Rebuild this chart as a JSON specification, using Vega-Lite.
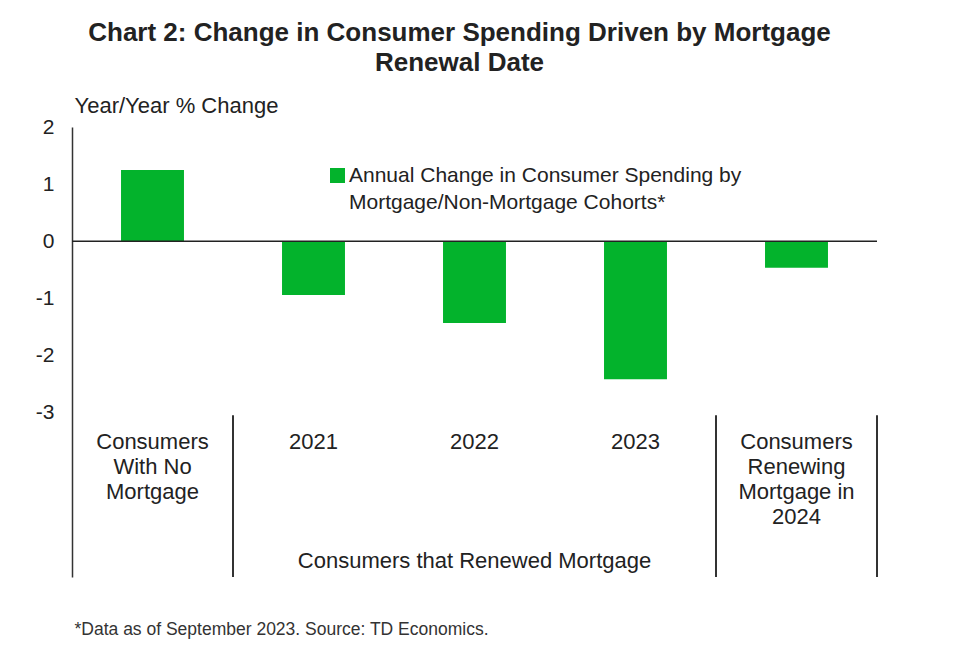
{
  "$schema": "https://vega.github.io/schema/vega-lite/v6.json",
  "autosize": {"type": "none"},
  "width": 805,
  "height": 450,
  "padding": {"left": 72, "top": 127, "right": 82, "bottom": 86},
  "background": "white",
  "config": {
    "view": {"stroke": null},
    "font": "Liberation Sans",
    "style": {"guide-label": {"lineHeight": 27}}
  },
  "title": {
    "text": ["Chart 2: Change in Consumer Spending Driven by Mortgage", "Renewal Date"],
    "fontSize": 26,
    "fontWeight": "bold",
    "color": "#222222",
    "lineHeight": 30,
    "anchor": "middle",
    "dx": -15,
    "offset": 18,
    "font": "Liberation Sans"
  },
  "datasets": {
    "bars": [
      {"category": "Consumers With No Mortgage", "label": "Consumers|With No|Mortgage", "value": 1.25, "series": "Annual Change in Consumer Spending by Mortgage/Non-Mortgage Cohorts*"},
      {"category": "2021", "label": "2021", "value": -0.94, "series": "Annual Change in Consumer Spending by Mortgage/Non-Mortgage Cohorts*"},
      {"category": "2022", "label": "2022", "value": -1.43, "series": "Annual Change in Consumer Spending by Mortgage/Non-Mortgage Cohorts*"},
      {"category": "2023", "label": "2023", "value": -2.41, "series": "Annual Change in Consumer Spending by Mortgage/Non-Mortgage Cohorts*"},
      {"category": "Consumers Renewing Mortgage in 2024", "label": "Consumers|Renewing|Mortgage in|2024", "value": -0.46, "series": "Annual Change in Consumer Spending by Mortgage/Non-Mortgage Cohorts*"}
    ],
    "group": [
      {"category": "2022", "label": "Consumers that Renewed Mortgage"}
    ],
    "one": [{}]
  },
  "layer": [
    {
      "data": {"name": "bars"},
      "mark": {"type": "bar", "width": {"band": 0.391}},
      "encoding": {
        "x": {
          "field": "category",
          "type": "nominal",
          "scale": {
            "domain": ["Consumers With No Mortgage", "2021", "2022", "2023", "Consumers Renewing Mortgage in 2024"],
            "paddingInner": 0,
            "paddingOuter": 0
          },
          "axis": {
            "orient": "bottom",
            "labels": false,
            "ticks": false,
            "domain": false,
            "grid": false,
            "title": "*Data as of September 2023. Source: TD Economics.",
            "titleAlign": "left",
            "titleBaseline": "alphabetic",
            "titleX": 2,
            "titleY": 57,
            "titleFontSize": 17.5,
            "titleFontWeight": "normal",
            "titleColor": "#333333"
          }
        },
        "y": {
          "field": "value",
          "type": "quantitative",
          "scale": {"domain": [-5.87, 2], "nice": false, "zero": false},
          "axis": {
            "values": [2, 1, 0, -1, -2, -3],
            "ticks": false,
            "grid": false,
            "domainColor": "#333333",
            "domainWidth": 1.5,
            "labelFontSize": 21,
            "labelPadding": 18,
            "labelColor": "#222222",
            "labelExpr": "'' + datum.value",
            "title": "Year/Year % Change",
            "titleAngle": 0,
            "titleAlign": "left",
            "titleBaseline": "alphabetic",
            "titleX": 2,
            "titleY": -15,
            "titleFontSize": 22,
            "titleFontWeight": "normal",
            "titleColor": "#222222"
          }
        },
        "color": {
          "field": "series",
          "type": "nominal",
          "scale": {"range": ["#03b32c"]},
          "legend": {
            "orient": "none",
            "legendX": 255,
            "legendY": 38,
            "title": null,
            "symbolType": "square",
            "symbolSize": 225,
            "symbolStrokeWidth": 0,
            "labelFontSize": 21,
            "labelColor": "#222222",
            "labelLimit": 0,
            "labelOffset": 1,
            "labelExpr": "['Annual Change in Consumer Spending by', 'Mortgage/Non-Mortgage Cohorts*']"
          }
        }
      }
    },
    {
      "data": {"name": "one"},
      "mark": {"type": "rule", "color": "#222222", "strokeWidth": 1.5},
      "encoding": {"y": {"datum": 0, "type": "quantitative"}}
    },
    {
      "data": {"name": "bars"},
      "mark": {"type": "text", "baseline": "top", "align": "center", "fontSize": 22, "lineHeight": 25, "lineBreak": "|", "color": "#222222"},
      "encoding": {
        "x": {"field": "category", "type": "nominal"},
        "y": {"datum": -3.33, "type": "quantitative"},
        "text": {"field": "label"}
      }
    },
    {
      "data": {"name": "group"},
      "mark": {"type": "text", "baseline": "alphabetic", "align": "center", "fontSize": 22, "color": "#222222"},
      "encoding": {
        "x": {"field": "category", "type": "nominal"},
        "y": {"datum": -5.71, "type": "quantitative"},
        "text": {"field": "label"}
      }
    },
    {
      "data": {"name": "one"},
      "mark": {"type": "rule", "color": "#333333", "strokeWidth": 2},
      "encoding": {
        "x": {"datum": "2021", "type": "nominal", "bandPosition": 0},
        "y": {"datum": -3.04, "type": "quantitative"},
        "y2": {"datum": -5.87}
      }
    },
    {
      "data": {"name": "one"},
      "mark": {"type": "rule", "color": "#333333", "strokeWidth": 2},
      "encoding": {
        "x": {"datum": "Consumers Renewing Mortgage in 2024", "type": "nominal", "bandPosition": 0},
        "y": {"datum": -3.04, "type": "quantitative"},
        "y2": {"datum": -5.87}
      }
    },
    {
      "data": {"name": "one"},
      "mark": {"type": "rule", "color": "#333333", "strokeWidth": 2},
      "encoding": {
        "x": {"datum": "Consumers Renewing Mortgage in 2024", "type": "nominal", "bandPosition": 1},
        "y": {"datum": -3.04, "type": "quantitative"},
        "y2": {"datum": -5.87}
      }
    }
  ]
}
